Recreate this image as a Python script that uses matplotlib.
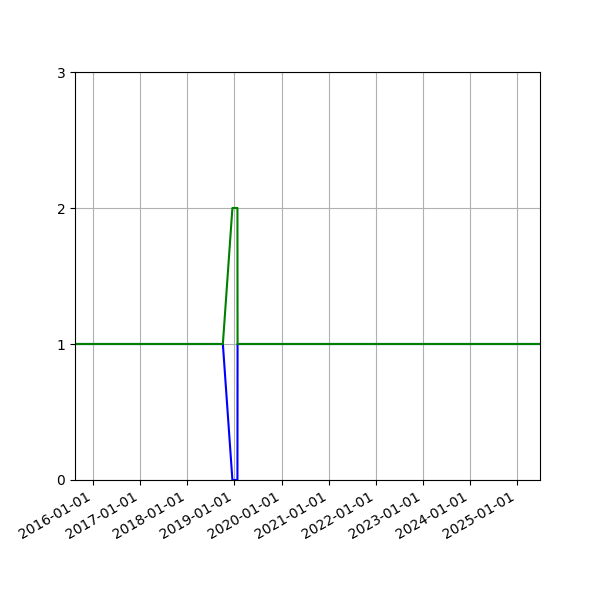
import numpy as np
import pandas as pd
import matplotlib
matplotlib.use('Agg')
import matplotlib.pyplot as plt
import matplotlib.dates as mdates

# dates where the values change
dates = pd.to_datetime(['2015-08-13', '2018-10-03', '2018-12-16',
                        '2019-01-24', '2019-01-25', '2025-06-28'])
blue_vals = [1, 1, 0, 0, 1, 1]
green_vals = [1, 1, 2, 2, 1, 1]

fig, ax = plt.subplots(figsize=(6, 6), dpi=100)
ax.plot(dates, blue_vals, color='blue')
ax.plot(dates, green_vals, color='green')

ax.set_xlim(dates[0], dates[-1])
ax.set_ylim(0, 3)
ax.set_yticks([0, 1, 2, 3])
ax.xaxis.set_major_locator(mdates.YearLocator())
ax.xaxis.set_major_formatter(mdates.DateFormatter('%Y-%m-%d'))
ax.grid(True)
fig.autofmt_xdate()

plt.savefig('out.png', dpi=100)
